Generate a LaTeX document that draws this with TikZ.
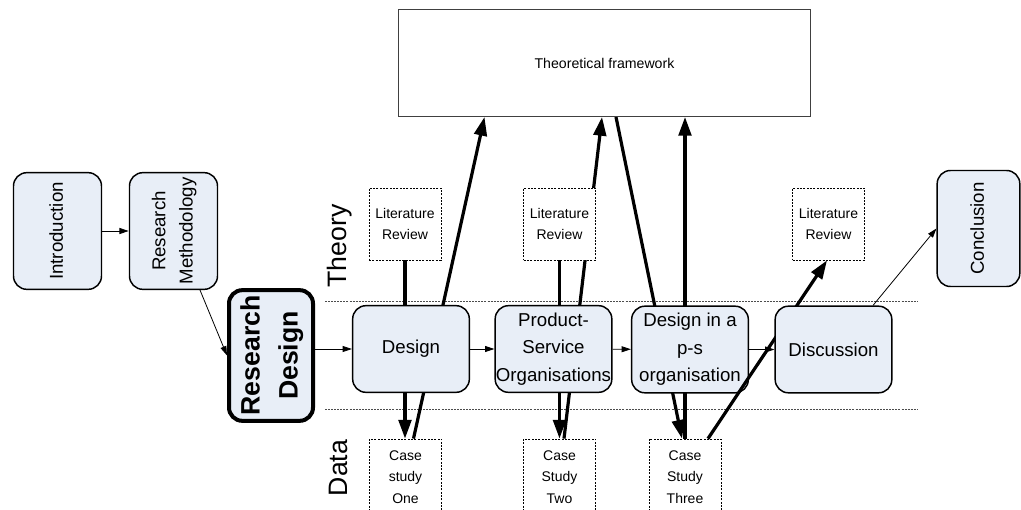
\documentclass[tikz,border=0pt]{standalone}
\usepackage{fontspec}
\setmainfont{Liberation Sans}
\usepackage{graphicx}
\usetikzlibrary{arrows.meta,calc,backgrounds}

\definecolor{boxfill}{RGB}{232,238,247}
\newcommand{\sidetext}[1]{\rotatebox{90}{\begin{tabular}{@{}c@{}}#1\end{tabular}}}

\tikzset{every picture/.style={line width=0.75pt}}
\tikzset{
  chapbox/.style={draw, rounded corners=10pt, fill=boxfill, line width=1.1pt, inner sep=0pt, align=center, font=\fontsize{14}{20.5}\selectfont},
  sourcebox/.style={draw, dash pattern=on 1.5pt off 1pt, line width=0.6pt, fill=white, inner sep=0pt, minimum width=54pt, align=center, font=\fontsize{10.5}{16}\selectfont},
  zoneline/.style={draw=black!70, dash pattern=on 1.5pt off 0.8pt, line width=0.7pt},
  thinarrow/.style={-{Triangle[length=7pt,width=4.5pt]}, line width=0.6pt},
  thickarrow/.style={-{Triangle[length=14pt,width=9.5pt]}, line width=2.4pt},
}

\begin{document}
\begin{tikzpicture}[x=0.75pt,y=0.75pt,yscale=-1,xscale=1]
\useasboundingbox (0,0) rectangle (1021,510); %diagram is 1021 wide, 510 high

%Shape: Rectangle [id:tf] 
\draw (604.5,63) node [draw=black!75, line width=1pt, minimum width=309pt, minimum height=80pt, font=\fontsize{10.6}{12}\selectfont] (tf) {Theoretical framework};

%Shape: Literature boxes
\draw (405,224) node [sourcebox, minimum height=54pt] (lr1) {Literature\\Review};
\draw (559.5,224) node [sourcebox, minimum height=54pt] (lr2) {Literature\\Review};
\draw (828.5,224) node [sourcebox, minimum height=54pt] (lr3) {Literature\\Review};

%Shape: Chapter boxes
\draw (57.5,231) node [chapbox, minimum width=66pt, minimum height=87.5pt] (intro) {\sidetext{Introduction}};
\draw (173.5,231) node [chapbox, minimum width=66pt, minimum height=87.5pt] (rm) {\sidetext{Research\\Methodology}};
\draw (271,355.5) node [chapbox, line width=3pt, minimum width=63pt, minimum height=98pt, font=\fontsize{20}{28.5}\selectfont\bfseries] (rd) {\sidetext{Research\\Design}};
\draw (411,349) node [chapbox, minimum width=87.5pt, minimum height=65pt] (design) {Design};
\draw (553.5,349) node [chapbox, minimum width=87.5pt, minimum height=65pt] (ps) {Product-\\Service\\Organisations};
\draw (690,349.5) node [chapbox, minimum width=87.5pt, minimum height=65pt] (dps) {Design in a\\p-s\\organisation};

%Shape: Case boxes
\draw (405.5,477) node [sourcebox, minimum height=57pt] (cs1) {Case\\study\\One};
\draw (559.5,477) node [sourcebox, minimum height=57pt] (cs2) {Case\\Study\\Two};
\draw (685,477) node [sourcebox, minimum height=57pt] (cs3) {Case\\Study\\Three};

% Text Node
\draw (340,246) node [inner sep=0pt, font=\fontsize{20}{24}\selectfont] (theory) {\rotatebox{90}{Theory}};
% Text Node
\draw (338,468) node [inner sep=0pt, font=\fontsize{20}{24}\selectfont] (data) {\rotatebox{90}{Data}};

\begin{pgfonlayer}{background}
%Straight Lines: zone borders
\draw [zoneline] (325,301.5) -- (917,301.5);
\draw [zoneline] (325,409) -- (917,409);
%Straight Lines: theory and data links
\draw [thickarrow] (lr1.south) -- (lr1.south |- cs1.north);
\draw [thickarrow] ($(cs1.north)+(8,0)$) -- ($(tf.south)+(-120,0)$);
\draw [thickarrow] (lr2.south) -- (lr2.south |- cs2.north);
\draw [thickarrow] ($(cs2.north)+(4.5,0)$) -- ($(tf.south)+(-2.5,0)$);
\draw [thickarrow] ($(tf.south)+(11.5,0)$) -- ($(cs3.north)+(-3,0)$);
\draw [thickarrow] (cs3.north) -- (cs3.north |- tf.south);
\end{pgfonlayer}

%Straight Lines: crosses p-s box, passes behind discussion
\draw [thickarrow] ($(cs3.north)+(23,0)$) -- ($(lr3.south)+(-1.5,0)$);

\draw (833.5,349.5) node [chapbox, minimum width=87.5pt, minimum height=65pt] (disc) {Discussion};
\draw (978.5,228.5) node [chapbox, minimum width=62pt, minimum height=87pt] (concl) {\sidetext{Conclusion}};

%Straight Lines: chapter flow
\draw [thinarrow] (intro) -- (rm);
\draw [thinarrow] ($(rm.south)+(26.5,0)$) -- (rd.west);
\draw [thinarrow] (rd.east |- design) -- (design);
\draw [thinarrow] (design) -- (ps);
\draw [thinarrow] (ps) -- (dps);
\draw [thinarrow] (dps) -- (disc);
\draw [thinarrow] ($(disc.north)+(39.5,0)$) -- (concl.west);

\end{tikzpicture}
\end{document}
